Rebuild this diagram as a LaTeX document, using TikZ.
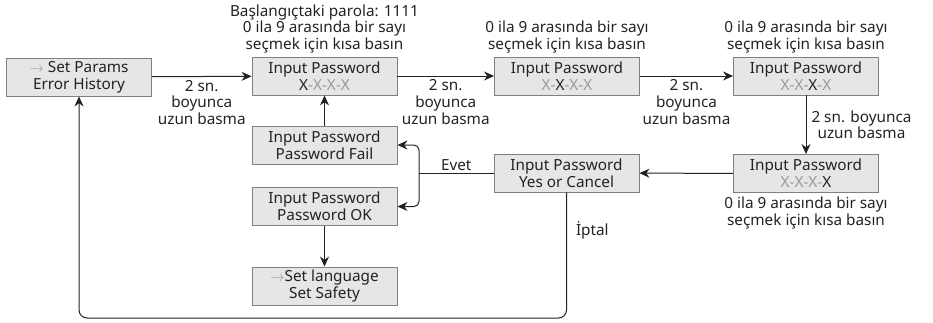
\documentclass[tikz,border=0pt]{standalone}
\usepackage{fontspec}
\setmainfont{Noto Sans}
\usepackage{xcolor}
\usetikzlibrary{arrows.meta,positioning,calc}
\definecolor{boxfill}{HTML}{E6E6E6}
\definecolor{boxline}{HTML}{808080}
\definecolor{dimx}{HTML}{9A9A9A}
\definecolor{ink}{HTML}{222222}
\newcommand{\dx}{\textcolor{dimx}{X}}
\newcommand{\dash}{\textcolor{dimx}{-}}
\newcommand{\garrow}{\textcolor{dimx}{$\rightarrow$}}

\begin{document}
\begin{tikzpicture}[x=1pt,y=-1pt,
  every node/.style={text=ink,font=\fontsize{15.3}{16.8}\selectfont},
  menubox/.style={draw=boxline,fill=boxfill,line width=0.9pt,minimum width=145pt,minimum height=38pt,inner sep=0pt,align=center},
  note/.style={align=center,inner sep=1pt},
  flow/.style={draw=ink,line width=1pt,-{Stealth[length=10pt,width=9pt]}}]
\useasboundingbox (0,0) rectangle (933,322);
% Menus
\node[menubox] (params) at (79,77) {\garrow{} Set Params\\Error History};
\node[menubox] (pwa) at (324.5,76) {Input Password\\X\dash\dx\dash\dx\dash\dx};
\node[menubox] (pwb) at (567,76) {Input Password\\\dx\dash X\dash\dx\dash\dx};
\node[menubox] (pwc) at (806,76) {Input Password\\\dx\dash\dx\dash X\dash\dx};
\node[menubox] (pwd) at (806,173.5) {Input Password\\\dx\dash\dx\dash\dx\dash X};
\node[menubox] (confirm) at (566.5,173) {Input Password\\Yes or Cancel};
\node[menubox] (fail) at (324.5,145) {Input Password\\Password Fail};
\node[menubox] (ok) at (324.5,206.5) {Input Password\\Password OK};
\node[menubox] (lang) at (324.5,286) {\garrow Set language\\Set Safety};
% Notlar
\node[note,above=2pt of pwa] (hinta) {Başlangıçtaki parola: 1111\\0 ila 9 arasında bir sayı\\seçmek için kısa basın};
\node[note,above=2pt of pwb] (hintb) {0 ila 9 arasında bir sayı\\seçmek için kısa basın};
\node[note,above=2pt of pwc] (hintc) {0 ila 9 arasında bir sayı\\seçmek için kısa basın};
\node[note,below=3pt of pwd] (hintd) {0 ila 9 arasında bir sayı\\seçmek için kısa basın};
% Oklar
\draw[flow] (params) -- node[note,below=2pt] {2 sn.\\boyunca\\uzun basma} (pwa);
\draw[flow] (pwa) -- node[note,below=2pt] {2 sn.\\boyunca\\uzun basma} (pwb);
\draw[flow] (pwb) -- node[note,below=2pt] {2 sn.\\boyunca\\uzun basma} (pwc);
\draw[flow] (pwc) -- node[note,right=4pt] {2 sn. boyunca\\uzun basma} (pwd);
\draw[flow] (pwd) -- (confirm);
\coordinate (split) at (419,173);
\draw[draw=ink,line width=1pt] (confirm.west) -- node[note,above=1pt] {Evet} (split);
\draw[flow,rounded corners=5pt] (split) |- (fail.east);
\draw[flow,rounded corners=5pt] (split) |- (ok.east);
\draw[flow] (fail) -- (pwa);
\draw[flow] (ok) -- (lang);
\coordinate (bottom) at (0,318);
\draw[flow,rounded corners=8pt] (confirm.south) -- node[note,pos=0.3,right=8pt] {İptal} (confirm.south |- bottom)
  -- (params.south |- bottom) -- (params.south);
\end{tikzpicture}
\end{document}
